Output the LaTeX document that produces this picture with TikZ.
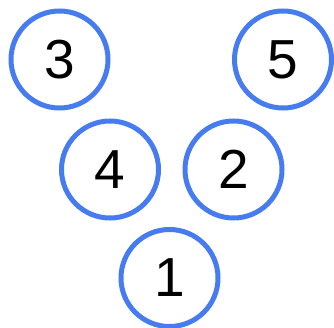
\documentclass[tikz,border=0pt]{standalone}
\usepackage{fontspec}
\setmainfont{Liberation Sans}
\definecolor{ringblue}{RGB}{70,124,240}
\begin{document}
\begin{tikzpicture}[x=1pt,y=-1pt,
  ring/.style={circle,draw=ringblue,line width=5pt,minimum size=97pt,inner sep=0pt,font=\fontsize{55}{55}\selectfont}]
\useasboundingbox (0,0) rectangle (334,328);
\node[ring] (n3) at (59.5,59.5) {3};
\node[ring] (n5) at (283,59.5) {5};
\node[ring] (n4) at (110,169.5) {4};
\node[ring] (n2) at (233.5,169.5) {2};
\node[ring] (n1) at (169.5,278) {1};
\end{tikzpicture}
\end{document}
